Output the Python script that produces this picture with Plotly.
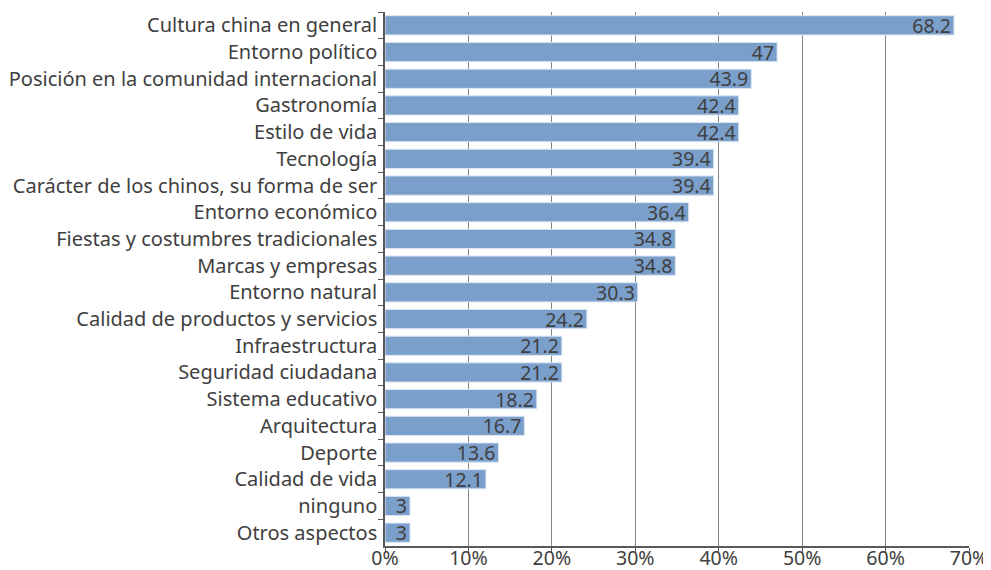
import plotly.graph_objects as go

categories = [
    "Cultura china en general",
    "Entorno político",
    "Posición en la comunidad internacional",
    "Gastronomía",
    "Estilo de vida",
    "Tecnología",
    "Carácter de los chinos, su forma de ser",
    "Entorno económico",
    "Fiestas y costumbres tradicionales",
    "Marcas y empresas",
    "Entorno natural",
    "Calidad de productos y servicios",
    "Infraestructura",
    "Seguridad ciudadana",
    "Sistema educativo",
    "Arquitectura",
    "Deporte",
    "Calidad de vida",
    "ninguno",
    "Otros aspectos",
]
values = [68.2, 47, 43.9, 42.4, 42.4, 39.4, 39.4, 36.4, 34.8, 34.8,
          30.3, 24.2, 21.2, 21.2, 18.2, 16.7, 13.6, 12.1, 3, 3]
tick_vals = [0, 10, 20, 30, 40, 50, 60, 70]
tick_text = ["0%", "10%", "20%", "30%", "40%", "50%", "60%", "70%"]

fig = go.Figure()
fig.add_trace(go.Bar(
    y=categories,
    x=values,
    orientation="h",
    marker={"color": "#7A9FCB", "line": {"color": "#DCE6F2", "width": 1}},
    width=0.72,
    text=[f"{v:g}" for v in values],
    textposition="inside",
    insidetextanchor="end",
    textangle=0,
    constraintext="none",
    textfont={"color": "#404040", "size": 19.5},
    cliponaxis=False,
))
# the page body has an 8px margin, so the figure is 8px smaller on each axis
fig.update_layout(
    width=983,
    height=562,
    plot_bgcolor="white",
    paper_bgcolor="white",
    font={"family": "Noto Sans, Open Sans, sans-serif", "size": 20, "color": "#404040"},
    showlegend=False,
    margin={"l": 377, "r": 22, "t": 4, "b": 24},
    xaxis={
        "range": [0, 70],
        "tickvals": tick_vals,
        "ticktext": tick_text,
        "tickfont": {"size": 19.5},
        "showgrid": True,
        "gridcolor": "#858585",
        "gridwidth": 1,
        "showline": True,
        "linecolor": "#595959",
        "linewidth": 1.5,
        "ticks": "outside",
        "ticklen": 5,
        "tickcolor": "#595959",
        "ticklabelstandoff": -11,
        "zeroline": False,
        "automargin": False,
        "fixedrange": True,
    },
    yaxis={
        "autorange": "reversed",
        "showline": True,
        "linecolor": "#595959",
        "linewidth": 1.5,
        "ticks": "outside",
        "tickson": "boundaries",
        "ticklen": 5,
        "tickcolor": "#595959",
        "showgrid": False,
        "automargin": False,
        "ticklabelstandoff": 2,
    },
)
fig.write_html("out.html")
